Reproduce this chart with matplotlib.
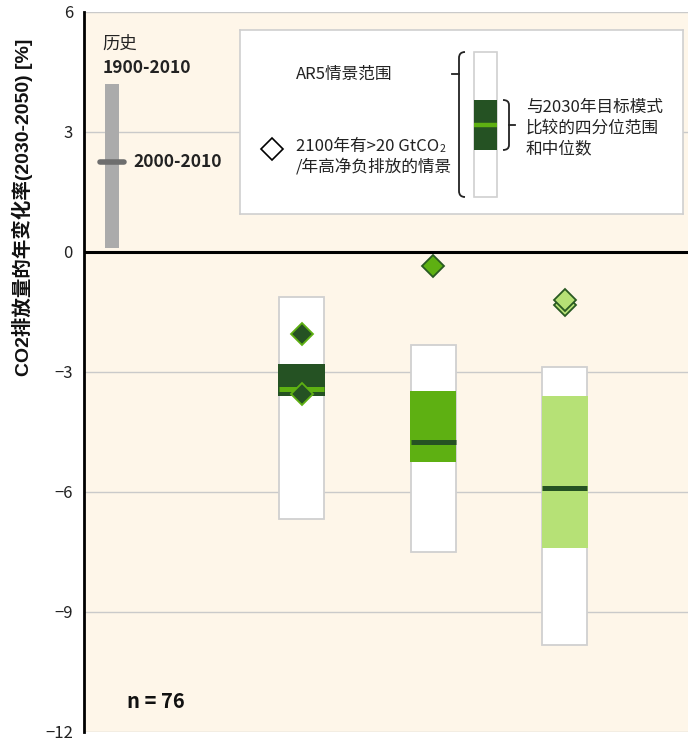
import matplotlib
matplotlib.use("Agg")
import matplotlib.pyplot as plt
from matplotlib.patches import Rectangle
from matplotlib.path import Path
from matplotlib.patches import PathPatch

plt.rcParams['font.family'] = ['Noto Sans CJK SC', 'DejaVu Sans']
plt.rcParams['axes.unicode_minus'] = True

# Historical growth of CO2 emissions [%/yr]
hist_range = (0.1, 4.2)        # 1900-2010 range
hist_recent = 2.25             # 2000-2010

# Scenario ranges of annual CO2 change 2030-2050 [%]
range_low = [-6.68, -7.50, -9.83]
range_high = [-1.12, -2.32, -2.87]
q25 = [-3.59, -5.24, -7.41]
q75 = [-2.79, -3.47, -3.59]
medians = [-3.42, -4.76, -5.91]
# scenarios with >20 GtCO2/yr net negative emissions in 2100
high_cdr = [[-2.04, -3.54], [-0.35], [-1.32, -1.20]]
n_scen = 76

yticks = [-12, -9, -6, -3, 0, 3, 6]

fill_cols = ['#255223', '#5EB012', '#B6E176']
median_cols = ['#5EB012', '#255223', '#255223']
dia_face = ['#255223', '#5EB012', '#B6E176']
dia_edge = ['#5EB012', '#2A5A22', '#2A5A22']

bg = '#FEF6E9'
grid_col = '#CACACA'
box_edge = '#D0D0D0'

W, H = 694, 742
fig = plt.figure(figsize=(W / 100, H / 100), dpi=100)
fig.patch.set_facecolor('white')

ax = fig.add_axes([84 / W, 1 - 732 / H, (688 - 84) / W, (732 - 12) / H])
ax.set_facecolor(bg)
ax.set_ylim(-12, 6)
ax.set_xlim(0, 4.59)

for s in ['top', 'right', 'bottom']:
    ax.spines[s].set_visible(False)
ax.spines['left'].set_linewidth(2.0)
ax.spines['left'].set_color('black')

ax.set_yticks(yticks)
ax.set_yticklabels([str(t).replace('-', '\u2212') for t in yticks], fontsize=12)
ax.tick_params(axis='y', length=0, pad=8, colors='#222222')
ax.set_xticks([])

for t in yticks:
    if t == 0:
        continue
    ax.axhline(t, color=grid_col, lw=1.0, zorder=0.5)
ax.axhline(0, color='black', lw=2.2, zorder=6)

# historical bar
hx = 0.213
hw = 0.106
ax.bar(hx, hist_range[1] - hist_range[0], bottom=hist_range[0], width=hw,
       color='#ABABAB', zorder=2)
ax.plot([hx - 0.09, hx + 0.09], [hist_recent, hist_recent], color='#6E6E6E',
        lw=4, solid_capstyle='round', zorder=3)
ax.text(hx + 0.165, hist_recent, '2000-2010', fontsize=12.5, fontweight='bold',
        va='center', ha='left', color='#222222')
ax.text(hx - 0.07, 5.2, '历史', fontsize=12.5, va='center', ha='left', color='#222222')
ax.text(hx - 0.07, 4.6, '1900-2010', fontsize=12.5, fontweight='bold',
        va='center', ha='left', color='#222222')

# scenario bars
xs = [1.654, 2.654, 3.654]
bw = 0.342
for i, x in enumerate(xs):
    ax.bar(x, range_high[i] - range_low[i], bottom=range_low[i], width=bw,
           color='white', edgecolor=box_edge, lw=1.3, zorder=2)
    ax.bar(x, q75[i] - q25[i], bottom=q25[i], width=bw + 0.01,
           color=fill_cols[i], lw=0, zorder=3)
    ax.plot([x - bw / 2, x + bw / 2], [medians[i], medians[i]],
            color=median_cols[i], lw=3.6, solid_capstyle='butt', zorder=4)
    for v in sorted(high_cdr[i]):
        ax.plot([x], [v], marker='D', ms=11.5, mfc=dia_face[i], mec=dia_edge[i],
                mew=1.3, ls='none', zorder=5)

ax.text(0.33, -11.25, f'n = {n_scen}', fontsize=14.5, fontweight='bold',
        ha='left', va='center', color='#111111')

fig.text(22 / W, 1 - 207 / H, 'CO2排放量的年变化率(2030-2050) [%]', rotation=90,
         fontsize=14, fontweight='bold', ha='center', va='center', color='#111111',
         family=['Liberation Sans', 'Noto Sans CJK SC'])

# key panel (pixel coordinates)
lax = fig.add_axes([240 / W, 1 - 214 / H, (683 - 240) / W, (214 - 30) / H])
lax.set_xlim(240, 683)
lax.set_ylim(214, 30)
lax.set_facecolor('white')
lax.set_xticks([])
lax.set_yticks([])
for s in lax.spines.values():
    s.set_color('#CFCFCF')
    s.set_linewidth(1.2)
lax.set_zorder(10)

txt_kw = dict(fontsize=12, color='#222222', va='center', ha='left')
lax.text(296, 74, 'AR5情景范围', **txt_kw)
t1 = lax.text(296, 147, '2100年有>20 GtCO', **txt_kw)
lax.annotate('2', xy=(1, 0), xycoords=t1, xytext=(0.5, 1), textcoords='offset points',
             fontsize=7.5, color='#222222', ha='left', va='bottom')
lax.text(296, 167, '/年高净负排放的情景', **txt_kw)
lax.plot([272], [149], marker='D', ms=11, mfc='white', mec='black', mew=1.2)

# range bracket
brace = Path([(465, 52), (459, 52), (459, 58), (459, 191), (459, 197), (465, 197)],
             [Path.MOVETO, Path.CURVE3, Path.CURVE3, Path.LINETO, Path.CURVE3, Path.CURVE3])
lax.add_patch(PathPatch(brace, fill=False, lw=1.3, color='#222222'))
lax.plot([452, 459], [74, 74], color='#222222', lw=1.3)

# key bar
lax.add_patch(Rectangle((474, 52), 23, 145, facecolor='white', edgecolor=box_edge, lw=1.2))
lax.add_patch(Rectangle((474, 100), 23, 50, facecolor=fill_cols[0], lw=0))
lax.plot([474, 497], [125, 125], color=median_cols[0], lw=3.2, solid_capstyle='butt')

bracket = Path([(503, 100), (509, 100), (509, 105), (509, 145), (509, 150), (503, 150)],
               [Path.MOVETO, Path.CURVE3, Path.CURVE3, Path.LINETO, Path.CURVE3, Path.CURVE3])
lax.add_patch(PathPatch(bracket, fill=False, lw=1.3, color='#222222'))
lax.plot([509, 515], [125, 125], color='#222222', lw=1.3)

lax.text(526, 107, '与2030年目标模式', **txt_kw)
lax.text(526, 128, '比较的四分位范围', **txt_kw)
lax.text(526, 149, '和中位数', **txt_kw)

fig.savefig('out.png', dpi=100, facecolor='white')
